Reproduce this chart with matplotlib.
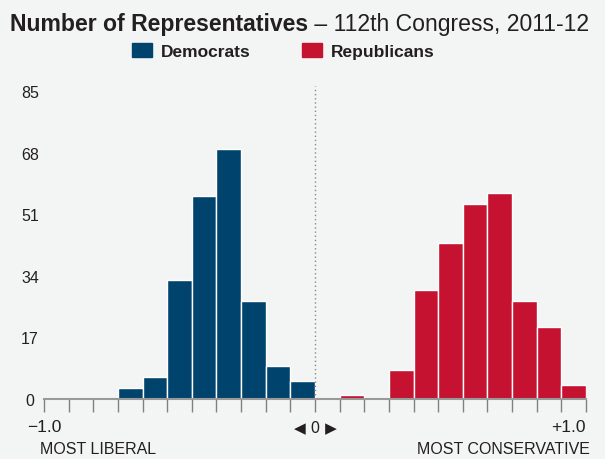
import numpy as np
from matplotlib import pyplot as plt
from matplotlib.patches import Rectangle

############ DATA
# counts per bin, 11 bins on each side of zero
dem_counts = [0, 0, 0, 3, 6, 33, 56, 69, 27, 9, 5]
rep_counts = [0, 1, 0, 8, 30, 43, 54, 57, 27, 20, 4]
y_ticks = [0, 17, 34, 51, 68, 85]
series_names = ['Democrats', 'Republicans']

dem_color = '#00446e'
rep_color = '#c41230'
bg = '#f3f5f4'
txt = '#231f20'

plt.rcParams['font.family'] = ['Liberation Sans', 'DejaVu Sans']

W, H = 605, 460
fig = plt.figure(figsize=(W/100, H/100), dpi=100, facecolor=bg)
ax = fig.add_axes([44/W, 1-400/H, (586-44)/W, (400-92.3)/H], facecolor=bg)

left_edges = np.linspace(-1, 0, len(dem_counts)+1)
right_edges = np.linspace(0, 1, len(rep_counts)+1)
bw = 1/len(dem_counts)
ax.bar(left_edges[:-1], dem_counts, width=bw, align='edge', color=dem_color, edgecolor='white', linewidth=1)
ax.bar(right_edges[:-1], rep_counts, width=bw, align='edge', color=rep_color, edgecolor='white', linewidth=1)

ax.set_xlim(-1, 1)
ax.set_ylim(0, 85)
ax.plot([0, 0], [0, 86.5], ls=(0, (1, 2)), color='#888888', lw=1, clip_on=False)

for s in ['top', 'right', 'left']:
    ax.spines[s].set_visible(False)
ax.spines['bottom'].set_color('#999999')
ax.spines['bottom'].set_linewidth(1.5)

ax.set_xticks(np.concatenate([left_edges, right_edges[1:]]))
ax.set_xticklabels([])
ax.tick_params(axis='x', direction='out', length=9, width=1, color='#808080')
ax.set_yticks(y_ticks)
ax.set_yticklabels([str(v) for v in y_ticks], ha='center', fontsize=11.5, color=txt)
ax.tick_params(axis='y', length=0, pad=10)

# axis end labels
ax.text(-1, -0.09, '\u22121.0', transform=ax.get_xaxis_transform(), ha='center', va='center', fontsize=12.5, color=txt)
ax.text(1, -0.09, '+1.0', transform=ax.get_xaxis_transform(), ha='right', va='center', fontsize=12.5, color=txt)
ax.text(0, -0.09, '\u25c0 0 \u25b6', transform=ax.get_xaxis_transform(), ha='center', va='center', fontsize=11, color=txt,
        family=['DejaVu Sans'])
fig.text(40/W, 1-450/H, 'MOST LIBERAL', ha='left', va='center', fontsize=11.5, color=txt)
fig.text(590/W, 1-450/H, 'MOST CONSERVATIVE', ha='right', va='center', fontsize=11.5, color=txt)

# title in two weights, sized to span 10..590 px
t1 = fig.text(10/W, 1-31/H, 'Number of Representatives', ha='left', va='baseline', fontsize=18, fontweight='bold', color=txt)
t2 = ax.annotate(' \u2013 112th Congress, 2011-12', xy=(1, 0), xycoords=t1, ha='left', va='bottom', fontsize=18,
                 color=txt, annotation_clip=False)
r = fig.canvas.get_renderer()
w = t1.get_window_extent(r).width + t2.get_window_extent(r).width
fs = 18 * 580 / w
t1.set_fontsize(fs)
t2.set_fontsize(fs)

# legend
fig.add_artist(Rectangle((132/W, 1-58/H), 20/W, 14/H, transform=fig.transFigure, color=dem_color))
fig.text(161/W, 1-57/H, series_names[0], ha='left', va='baseline', fontsize=12.5, fontweight='bold', color=txt)
fig.add_artist(Rectangle((302/W, 1-58/H), 20/W, 14/H, transform=fig.transFigure, color=rep_color))
fig.text(331/W, 1-57/H, series_names[1], ha='left', va='baseline', fontsize=12.5, fontweight='bold', color=txt)

plt.savefig('out.png', dpi=100, facecolor=bg)
